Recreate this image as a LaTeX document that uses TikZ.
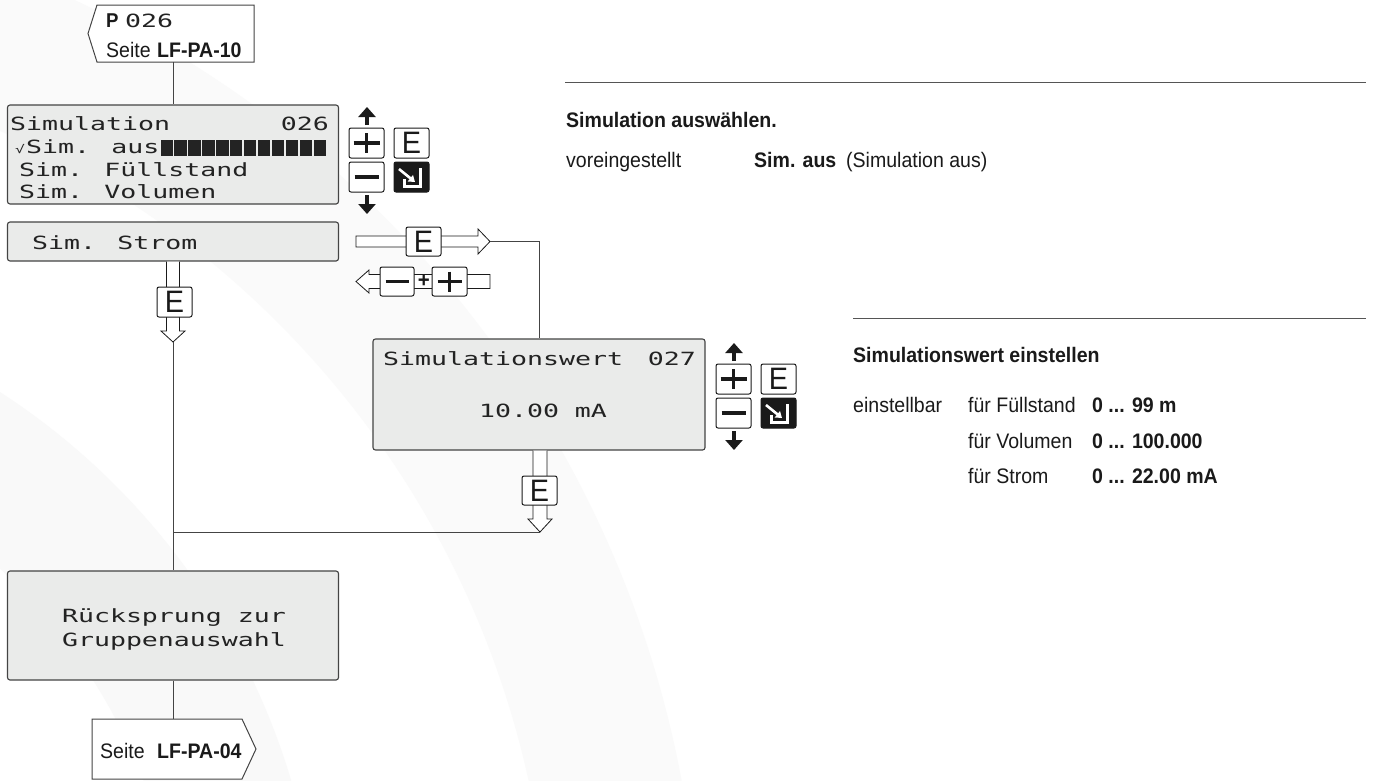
\documentclass[tikz,border=0pt]{standalone}
\usepackage{fontspec}
\setmainfont{Liberation Sans}[FakeStretch=0.93]
\newfontfamily\lcd{DejaVu Sans Mono}[FakeStretch=1.46]
\usetikzlibrary{arrows.meta}
\definecolor{lcdfill}{HTML}{EAEBEA}
\definecolor{edge}{HTML}{444444}
\definecolor{ink}{HTML}{1A1A1A}
\definecolor{lcdink}{HTML}{232323}
\definecolor{ruleline}{HTML}{555555}
\tikzset{
  x=1pt, y=-1pt,
  lcdbox/.style={draw=edge, line width=1.1pt, fill=lcdfill, rounded corners=2.5pt, inner sep=0pt},
  lcdtext/.style={font=\lcd\fontsize{18.2}{18}\selectfont, text=lcdink, inner sep=0pt, anchor=base west},
  lcdright/.style={lcdtext, anchor=base east},
  lcdmid/.style={lcdtext, anchor=base},
  key/.style={draw=ink, line width=1pt, fill=white, rounded corners=2pt, minimum width=35pt, minimum height=30pt, inner sep=0pt, font=\fontsize{31}{31}\selectfont, text=ink},
  enterkey/.style={key, fill=ink},
  sym/.style={draw=ink, line width=3.6pt},
  hollow/.style={draw=ink, line width=0.8pt, fill=white, line join=miter},
  conn/.style={draw=edge, line width=0.9pt},
  boldarrow/.style={draw=ink, line width=4.6pt, -{Triangle[width=17pt,length=10pt]}},
  tagshape/.style={draw=edge, line width=1pt, fill=white},
  txt/.style={font=\fontsize{21}{24}\selectfont, text=ink, inner sep=0pt, anchor=base west},
  btxt/.style={txt, font=\fontsize{21}{24}\selectfont\bfseries},
  rulestyle/.style={draw=ruleline, line width=0.9pt},
  pics/keypad/.style={code={
    \node[key] (-plus) at (17.5,15) {};
    \node[key] (-e) at (62.5,15) {E};
    \node[key] (-minus) at (17.5,49) {};
    \node[enterkey] (-enter) at (62.5,49) {};
    \draw[sym] (4.5,15) -- (30.5,15) (17.5,5) -- (17.5,25);
    \draw[sym] (5.5,49) -- (29.5,49);
    \draw[white, line width=3pt] (71,40) -- (71,58) -- (55,58) -- (55,51);
    \draw[white, line width=2.6pt, -{Triangle[width=8pt,length=6pt]}] (50,41) -- (66,54);
    \draw[boldarrow] (18,-3) -- (18,-21);
    \draw[boldarrow] (18,67) -- (18,86);
  }}
}
\begin{document}
\begin{tikzpicture}
\useasboundingbox (0,0) rectangle (1376,780);
\fill[white] (0,0) rectangle (1376,780);
% faint watermark arcs
\begin{scope}
\clip (0,0) rectangle (1376,780);
\fill[black!2.5, even odd rule] (-380,980) circle[radius=700] (-380,980) circle[radius=560];
\fill[black!2, even odd rule] (-380,980) circle[radius=1080] (-380,980) circle[radius=930];
\end{scope}

% top tag
\draw[tagshape] (97,5) -- (254,5) -- (254,62) -- (97,62) -- (88,33.5) -- cycle;
\node[btxt, font=\fontsize{20}{24}\selectfont\bfseries] (tP) at (106,27) {P};
\node[lcdtext] (tNum) at (125,27) {026};
\node[txt] (tS) at (106,57) {Seite};
\node[btxt] (tL) at (157,57) {LF-PA-10};
\coordinate (tagTopS) at (173,62);

% display boxes
\node[lcdbox, minimum width=331pt, minimum height=99pt] (b1) at (173,154.5) {};
\node[lcdbox, minimum width=331pt, minimum height=39pt] (b2) at (173,241.5) {};
\node[lcdbox, minimum width=332pt, minimum height=111pt] (b3) at (539,394.5) {};
\node[lcdbox, minimum width=331pt, minimum height=109pt] (b4) at (173,625.5) {};

\draw[conn] (tagTopS) -- (b1.north);

% box 1 text
\node[lcdtext] (l1) at (10,130) {Simulation};
\node[lcdright] (l1n) at (329,130) {026};
\node[lcdtext, font=\lcd\fontsize{11}{12}\selectfont] (chk) at (15,153) {√};
\node[lcdtext] (l2) at (26,153) {Sim. aus};
\foreach \i in {0,...,11} \fill[lcdink] (160.5+\i*13.95,140) rectangle ++(12.2,16);
\node[lcdtext] (l3) at (19,176) {Sim. Füllstand};
\node[lcdtext] (l4) at (19,198) {Sim. Volumen};
\node[lcdtext] (l5) at (32,249) {Sim. Strom};

% box 3 text
\node[lcdtext] (m1) at (383,365) {Simulationswert};
\node[lcdright] (m1n) at (696,365) {027};
\node[lcdmid] (m2) at (543,417) {10.00 mA};

% box 4 text
\node[lcdmid] (r1) at (174,622) {Rücksprung zur};
\node[lcdmid] (r2) at (174,646) {Gruppenauswahl};

% keypads
\pic (kpA) at (349,128) {keypad};
\pic (kpB) at (716,364) {keypad};

% E -> arrow to Simulationswert
\draw[hollow] (356,236) -- (478,236) -- (478,229) -- (490,241.5) -- (478,254) -- (478,247) -- (356,247) -- cycle;
\node[key, minimum height=29pt] (eR) at (423.5,241.5) {E};
\coordinate (tipR) at (490,241.5);
\draw[conn] (tipR) -| (b3.north);

% <- (- + +) arrow
\draw[hollow] (356,281.5) -- (369,270) -- (369,274.5) -- (490,274.5) -- (490,288.5) -- (369,288.5) -- (369,293) -- cycle;
\node[key, minimum width=34pt, minimum height=29pt] (mK) at (397,281.5) {};
\node[key, minimum width=35pt, minimum height=29pt] (pK) at (449.5,281.5) {};
\draw[sym] (385.5,281.5) -- (408.5,281.5);
\draw[sym] (437.5,281.5) -- (461.5,281.5) (449.5,271.5) -- (449.5,291.5);
\node[font=\fontsize{22}{22}\selectfont\bfseries, text=ink, inner sep=0pt] (plusTxt) at (423.8,281) {+};

% left down hollow arrow with E
\draw[hollow] (166.5,261.5) -- (166.5,331) -- (161,331) -- (173,342) -- (185,331) -- (179.5,331) -- (179.5,261.5);
\node[key] (eL) at (174.5,302) {E};
\coordinate (tipL) at (173,342);

% box3 down hollow arrow with E
\draw[hollow] (533,450.5) -- (533,519) -- (528,519) -- (540,532) -- (552,519) -- (547,519) -- (547,450.5);
\node[key, minimum height=29pt] (eD) at (539.5,490.5) {E};
\coordinate (tipD) at (540,532);

% main connectors
\draw[conn] (tipL) -- (b4.north);
\draw[conn] (tipD) -- (tipD -| tipL);

% bottom tag
\draw[tagshape] (92,719) -- (242,719) -- (256,749) -- (242,779) -- (92,779) -- cycle;
\coordinate (tagBotN) at (173,719);
\draw[conn] (b4.south) -- (tagBotN);
\node[txt] (bS) at (100,758) {Seite};
\node[btxt] (bL) at (157,758) {LF-PA-04};

% right description texts
\draw[rulestyle] (565,82) -- (1366,82);
\node[btxt] (h1) at (566,127) {Simulation auswählen.};
\node[txt] (v1) at (566,167) {voreingestellt};
\node[btxt] (v2) at (754,167) {Sim. aus};
\node[txt] (v3) at (846,167) {(Simulation aus)};

\draw[rulestyle] (853,318) -- (1366,318);
\node[btxt] (h2) at (853,362) {Simulationswert einstellen};
\node[txt] (e1) at (853,412) {einstellbar};
\node[txt] (e2) at (968,412) {für Füllstand};
\node[btxt] (e3) at (1092,412) {0 ... 99 m};
\node[txt] (e4) at (968,448) {für Volumen};
\node[btxt] (e5) at (1092,448) {0 ... 100.000};
\node[txt] (e6) at (968,483) {für Strom};
\node[btxt] (e7) at (1092,483) {0 ... 22.00 mA};
\end{tikzpicture}
\end{document}
